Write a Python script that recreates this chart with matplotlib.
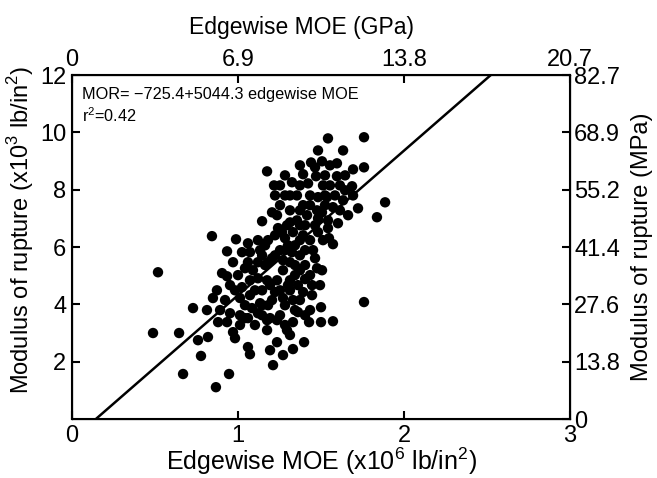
import numpy as np
import matplotlib
matplotlib.use("Agg")
import matplotlib.pyplot as plt

plt.rcParams['font.family'] = ['Liberation Sans', 'DejaVu Sans']
plt.rcParams['mathtext.fontset'] = 'custom'
plt.rcParams['mathtext.rm'] = 'Liberation Sans'

# edgewise MOE (x10^6 lb/in^2) and modulus of rupture (x10^3 lb/in^2)
moe = [1.175, 1.217, 1.325, 1.223, 1.283, 1.253, 1.205, 1.145, 1.235, 1.295,
       1.542, 1.759, 1.482, 1.633, 1.440, 1.506, 1.596, 1.693, 1.759, 1.392,
       1.470, 1.596, 1.422, 1.512, 1.614, 1.687, 1.482, 1.536, 1.584, 1.633,
       1.693, 1.355, 1.392, 1.476, 1.524, 1.572, 1.355, 1.416, 1.464, 1.331,
       1.392, 1.434, 1.512, 1.886, 1.723, 1.663, 1.837, 1.602, 1.548, 0.843,
       0.988, 1.060, 1.120, 1.181, 0.934, 1.024, 1.265, 1.301, 1.572, 0.518,
       0.904, 0.934, 1.090, 1.163, 1.175, 1.235, 0.952, 1.024, 0.873, 0.849,
       1.012, 1.102, 0.729, 0.813, 0.892, 0.952, 1.042, 1.133, 1.205, 0.880,
       0.934, 1.012, 1.060, 1.120, 1.175, 1.235, 0.488, 0.645, 0.759, 0.819,
       0.970, 0.982, 1.060, 1.175, 0.777, 0.669, 0.867, 0.946, 1.072, 1.193,
       1.211, 1.235, 1.398, 1.331, 1.446, 1.500, 1.428, 1.500, 1.572, 1.759,
       1.476, 1.404, 1.283, 1.295, 1.271, 1.145, 1.325, 1.373, 1.452, 1.343,
       1.404, 1.361, 1.392, 1.331, 1.223, 1.283, 1.253, 1.313, 1.271, 1.313,
       1.253, 1.145, 1.205, 1.120, 1.060, 1.223, 1.145, 1.072, 1.163, 1.343,
       1.404, 1.434, 1.361, 1.331, 1.253, 1.102, 1.482, 1.373, 1.313, 1.373,
       1.283, 1.524, 1.554, 1.434, 1.542, 1.404, 1.506, 1.614, 1.301, 1.181,
       1.084, 1.000, 1.042, 0.970, 1.283, 1.494, 1.012, 1.223,
       1.241, 1.313, 1.434, 1.482, 1.542, 1.373, 1.283, 1.464, 1.373, 1.313,
       1.193, 1.120, 1.072, 1.181, 1.271, 1.343, 1.446, 1.373, 1.271, 1.145,
       0.982, 0.922, 1.042, 1.193, 1.343, 1.434, 1.524, 1.645, 1.554, 1.464,
       1.373, 1.313, 1.373, 1.645, 1.253, 1.133, 1.072, 1.506, 1.404, 1.313]
mor = [8.64, 8.15, 8.26, 7.80, 7.80, 7.46, 7.21, 6.90, 7.11, 6.76,
       9.79, 9.83, 9.37, 9.37, 8.95, 8.99, 8.92, 8.71, 8.78, 8.54,
       8.47, 8.47, 8.22, 8.15, 8.15, 8.12, 7.74, 7.74, 7.80, 7.63,
       7.80, 7.80, 7.46, 7.28, 7.46, 7.39, 6.93, 7.11, 6.76, 6.52,
       6.41, 6.24, 6.24, 7.56, 7.35, 7.11, 7.04, 6.83, 6.31, 6.38,
       6.27, 6.13, 6.24, 6.24, 5.85, 5.82, 6.52, 6.06, 6.10, 5.12,
       5.09, 4.98, 5.19, 5.37, 4.84, 4.84, 4.67, 4.60, 4.49, 4.22,
       4.22, 4.49, 3.87, 3.80, 3.80, 3.69, 3.97, 4.04, 4.15, 3.38,
       3.38, 3.62, 3.52, 3.69, 3.45, 3.45, 3.00, 3.00, 2.75, 2.86,
       3.03, 2.82, 2.51, 3.10, 2.20, 1.57, 1.11, 1.57, 2.26, 2.40,
       1.88, 2.68, 2.68, 2.44, 4.32, 3.90, 3.38, 3.38, 3.41, 4.08,
       5.26, 4.88, 3.97, 3.10, 2.23, 3.62, 5.82, 5.71, 5.89, 5.37,
       5.37, 4.67, 4.43, 4.15, 6.41, 6.31, 5.89, 5.47, 5.19, 4.84,
       4.49, 5.71, 5.61, 5.47, 5.47, 4.43, 4.49, 4.32, 6.06, 6.06,
       5.89, 5.02, 3.73, 3.38, 3.62, 3.28, 6.52, 6.76, 7.28, 8.15,
       8.50, 8.50, 8.15, 7.80, 6.93, 6.76, 7.21, 7.28, 4.67, 3.97,
       3.87, 5.02, 5.26, 5.47, 3.28, 4.67, 3.28, 5.71,
       6.66, 6.86, 7.46, 7.00, 6.66, 6.24, 5.89, 5.61, 5.19, 4.49,
       4.67, 4.91, 4.84, 5.47, 5.54, 5.02, 4.67, 4.15, 4.22, 3.97,
       4.49, 4.15, 3.52, 3.52, 3.80, 3.80, 7.80, 8.50, 8.85, 8.78,
       8.85, 7.80, 7.28, 7.98, 8.15, 5.89, 5.82, 5.19, 3.62, 2.93]

# regression: MOR = -725.4 + 5044.3 * MOE  (lb/in^2, with MOE in 10^6 lb/in^2)
b0, b1 = -725.4, 5044.3

xticks = [0, 1, 2, 3]
yticks = [2, 4, 6, 8, 10, 12]
gpa_labels = ['0', '6.9', '13.8', '20.7']
mpa_ticks = [0, 2, 4, 6, 8, 10, 12]
mpa_labels = ['0', '13.8', '27.6', '41.4', '55.2', '68.9', '82.7']

fig = plt.figure(figsize=(6.57, 4.78), dpi=100)
ax = fig.add_axes([0.1096, 0.1234, 0.758, 0.7196])

ax.scatter(moe, mor, s=56, c='black', edgecolors='none', zorder=3)
xl = np.array([0, 3])
ax.plot(xl, (b0 + b1 * xl) / 1000, color='black', lw=1.8)

ax.set_xlim(0, 3)
ax.set_ylim(0, 12)
ax.set_xticks(xticks)
ax.set_yticks(yticks)
ax.tick_params(direction='in', length=6, width=1.5, labelsize=17, pad=4)
for s in ax.spines.values():
    s.set_linewidth(1.5)
ax.set_xlabel('Edgewise MOE (x10$^6$ lb/in$^2$)', fontsize=18, labelpad=-1)
ax.set_ylabel('Modulus of rupture (x10$^3$ lb/in$^2$)', fontsize=17, labelpad=3)
ax.yaxis.label.set_y(0.55)

ax.text(0.02, 0.965, 'MOR= \u2212725.4+5044.3 edgewise MOE\nr$^2$=0.42',
        transform=ax.transAxes, fontsize=11.7, va='top', ha='left', linespacing=1.3)

axt = ax.twiny()
axt.set_xlim(0, 3)
axt.set_xticks(xticks)
axt.set_xticklabels(gpa_labels)
axt.tick_params(direction='in', length=6, width=1.5, labelsize=17, pad=3)
axt.set_xlabel('Edgewise MOE (GPa)', fontsize=16.5, labelpad=11)
axt.xaxis.label.set_x(0.46)

axr = ax.twinx()
axr.set_ylim(0, 12)
axr.set_yticks(mpa_ticks)
axr.set_yticklabels(mpa_labels)
axr.tick_params(direction='in', length=6, width=1.5, labelsize=17, pad=3)
axr.set_ylabel('Modulus of rupture (MPa)', fontsize=17, labelpad=8)

fig.savefig('out.png', dpi=100)
